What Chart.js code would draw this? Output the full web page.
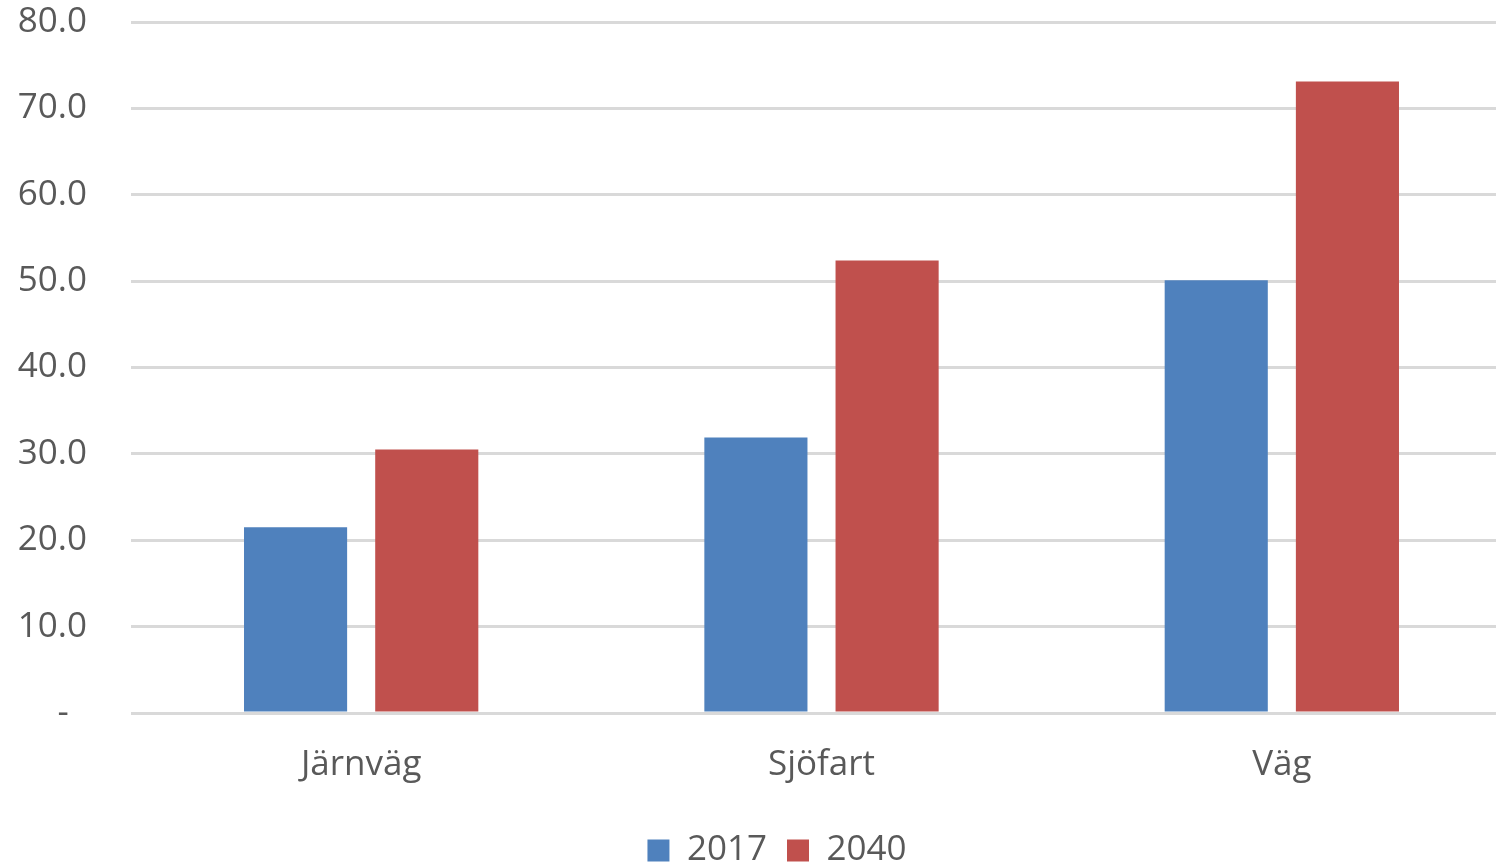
<!DOCTYPE html>
<html>
<head>
<meta charset="utf-8">
<script src="https://cdn.jsdelivr.net/npm/chart.js@4/dist/chart.umd.min.js"></script>
<style>
  html, body { margin: 0; padding: 0; background: #fff; overflow: hidden; }
  #wrap { width: 1512px; height: 864px; position: relative; }
</style>
</head>
<body>
<div id="wrap"><canvas id="freightChart"></canvas></div>
<script>
const categories = ['Järnväg', 'Sjöfart', 'Väg'];
const values2017 = [21.5, 31.9, 50.1];
const values2040 = [30.5, 52.4, 73.1];
const yTicks = [0, 10, 20, 30, 40, 50, 60, 70, 80];

const textColor = '#595959';
const fontFamily = '"Open Sans", "Noto Sans", sans-serif';

// the original legend is a little right of the canvas centre
const legendShift = {
    id: 'legendShift',
    afterLayout(chart) {
        if (!chart.legend) return;
        chart.legend.left += 21;
        chart.legend.right += 21;
    }
};

const ctx = document.getElementById('freightChart');
new Chart(ctx, {
    type: 'bar',
    data: {
        labels: categories,
        datasets: [{
            label: '2017',
            data: values2017,
            backgroundColor: '#4f81bd'
        }, {
            label: '2040',
            data: values2040,
            backgroundColor: '#c0504d'
        }]
    },
    plugins: [legendShift],
    options: {
        responsive: true,
        maintainAspectRatio: false,
        animation: false,
        categoryPercentage: 0.57,
        barPercentage: 0.786,
        // legend sits low like the original, so let it run a bit past the bottom edge
        layout: { padding: { top: 22, right: 0, left: 0, bottom: -14 } },
        plugins: {
            tooltip: { enabled: false },
            legend: {
                position: 'bottom',
                labels: {
                    color: textColor,
                    font: { family: fontFamily, size: 35 },
                    boxWidth: 22,
                    boxHeight: 22,
                    padding: 20,
                    useBorderRadius: false
                }
            }
        },
        scales: {
            x: {
                grid: { display: false, drawTicks: false },
                border: { display: false },
                ticks: {
                    color: textColor,
                    font: { family: fontFamily, size: 35 },
                    padding: 31
                },
                afterFit: (scale) => { scale.height = 100; }
            },
            y: {
                min: 0,
                max: 80,
                afterBuildTicks: (scale) => {
                    scale.ticks = yTicks.map(v => ({ value: v }));
                },
                afterFit: (scale) => {
                    scale.width = 131;
                    scale.paddingTop = 0;
                    scale.paddingBottom = 0;
                },
                grid: { color: '#d9d9d9', lineWidth: 3, drawTicks: false },
                border: { display: false },
                ticks: {
                    color: textColor,
                    font: { family: fontFamily, size: 35 },
                    padding: 44,
                    callback: (v) => v === 0 ? '-  ' : v.toFixed(1)
                }
            }
        }
    }
});
</script>
</body>
</html>
